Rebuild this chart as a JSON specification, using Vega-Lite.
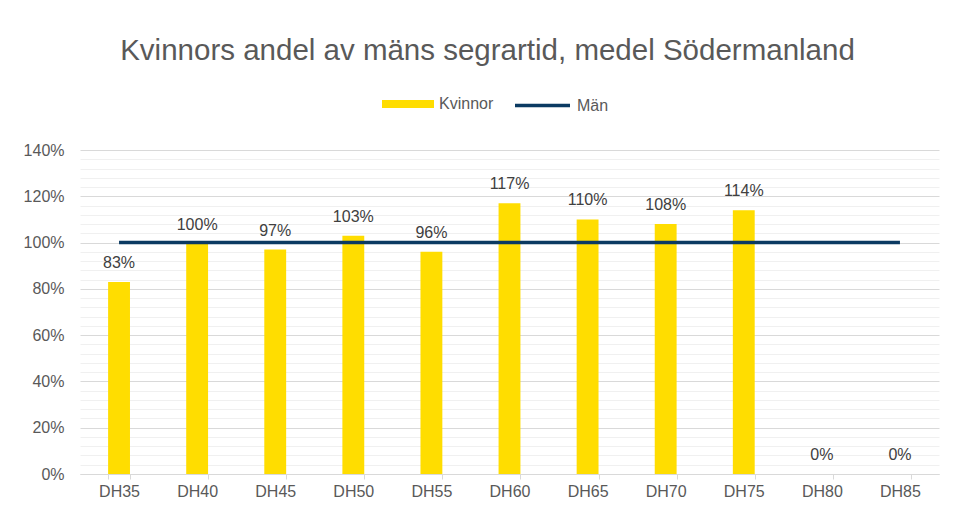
{
  "$schema": "https://vega.github.io/schema/vega-lite/v6.json",
  "autosize": "none",
  "width": 859,
  "height": 324,
  "padding": {"left": 80, "top": 150, "right": 18, "bottom": 38},
  "background": "white",
  "title": {
    "text": "Kvinnors andel av mäns segrartid, medel Södermanland",
    "font": "Liberation Sans",
    "fontSize": 29.5,
    "fontWeight": "normal",
    "color": "#595959",
    "anchor": "middle",
    "frame": "group",
    "dx": -22,
    "baseline": "bottom",
    "offset": -19
  },
  "data": {
    "values": [
      {"cat": "DH35", "kv": 0.83, "man": 1.0},
      {"cat": "DH40", "kv": 0.995, "man": 1.0},
      {"cat": "DH45", "kv": 0.97, "man": 1.0},
      {"cat": "DH50", "kv": 1.03, "man": 1.0},
      {"cat": "DH55", "kv": 0.96, "man": 1.0},
      {"cat": "DH60", "kv": 1.17, "man": 1.0},
      {"cat": "DH65", "kv": 1.1, "man": 1.0},
      {"cat": "DH70", "kv": 1.08, "man": 1.0},
      {"cat": "DH75", "kv": 1.14, "man": 1.0},
      {"cat": "DH80", "kv": 0, "man": 1.0},
      {"cat": "DH85", "kv": 0, "man": 1.0}
    ]
  },
  "config": {
    "view": {"stroke": null},
    "font": "Liberation Sans"
  },
  "encoding": {
    "x": {
      "field": "cat",
      "type": "nominal",
      "sort": null,
      "title": null,
      "scale": {"paddingInner": 0.72, "paddingOuter": 0.36},
      "axis": {
        "labelAngle": 0,
        "labelFont": "Liberation Sans",
        "labelFontSize": 16,
        "labelColor": "#595959",
        "labelPadding": 4,
        "domainColor": "#d9d9d9",
        "domainWidth": 1,
        "tickColor": "#d9d9d9",
        "tickSize": 5,
        "tickBand": "extent",
        "grid": false
      }
    }
  },
  "layer": [
    {
      "mark": {"type": "bar", "color": "#FFDD00"},
      "encoding": {
        "y": {
          "field": "kv",
          "type": "quantitative",
          "title": null,
          "scale": {"domain": [0, 1.4], "nice": false},
          "axis": {
            "values": [0, 0.2, 0.4, 0.6, 0.8, 1.0, 1.2, 1.4],
            "format": ".0%",
            "labelFont": "Liberation Sans",
            "labelFontSize": 16,
            "labelColor": "#595959",
            "labelPadding": 16,
            "domain": false,
            "ticks": false,
            "grid": true,
            "gridColor": "#d9d9d9",
            "gridWidth": 1
          }
        },
        "color": {
          "datum": "Kvinnor",
          "type": "nominal",
          "scale": {"domain": ["Kvinnor"], "range": ["#FFDD00"]},
          "legend": {
            "title": null,
            "orient": "none",
            "legendX": 302,
            "legendY": -72,
            "padding": 0,
            "symbolType": "M-1,-0.15H1V0.15H-1Z",
            "symbolSize": 2704,
            "symbolStrokeWidth": 0,
            "labelFont": "Liberation Sans",
            "labelFontSize": 16,
            "labelColor": "#595959",
            "labelOffset": 5
          }
        }
      }
    },
    {
      "mark": {"type": "line", "strokeWidth": 3.5},
      "encoding": {
        "y": {
          "field": "man",
          "type": "quantitative",
          "axis": {
            "orient": "right",
            "values": [0.04, 0.08, 0.12, 0.16, 0.24, 0.28, 0.32, 0.36, 0.44, 0.48, 0.52, 0.56, 0.64, 0.68, 0.72, 0.76, 0.84, 0.88, 0.92, 0.96, 1.04, 1.08, 1.12, 1.16, 1.24, 1.28, 1.32, 1.36],
            "labels": false,
            "ticks": false,
            "domain": false,
            "title": null,
            "grid": true,
            "gridColor": "#f0f0f0",
            "gridWidth": 1
          }
        },
        "color": {
          "datum": "Män",
          "type": "nominal",
          "scale": {"domain": ["Män"], "range": ["#0b3a62"]},
          "legend": {
            "title": null,
            "orient": "none",
            "legendX": 433,
            "legendY": -74,
            "padding": 0,
            "symbolType": "stroke",
            "symbolSize": 3025,
            "symbolStrokeWidth": 3.5,
            "labelFont": "Liberation Sans",
            "labelFontSize": 16,
            "labelColor": "#595959",
            "labelOffset": 5
          }
        }
      }
    },
    {
      "mark": {
        "type": "text",
        "baseline": "bottom",
        "dy": -11,
        "font": "Liberation Sans",
        "fontSize": 16,
        "color": "#404040"
      },
      "encoding": {
        "y": {"field": "kv", "type": "quantitative", "axis": null},
        "text": {"field": "kv", "type": "quantitative", "format": ".0%"}
      }
    }
  ],
  "resolve": {
    "scale": {"color": "independent"},
    "axis": {"y": "independent"}
  }
}
